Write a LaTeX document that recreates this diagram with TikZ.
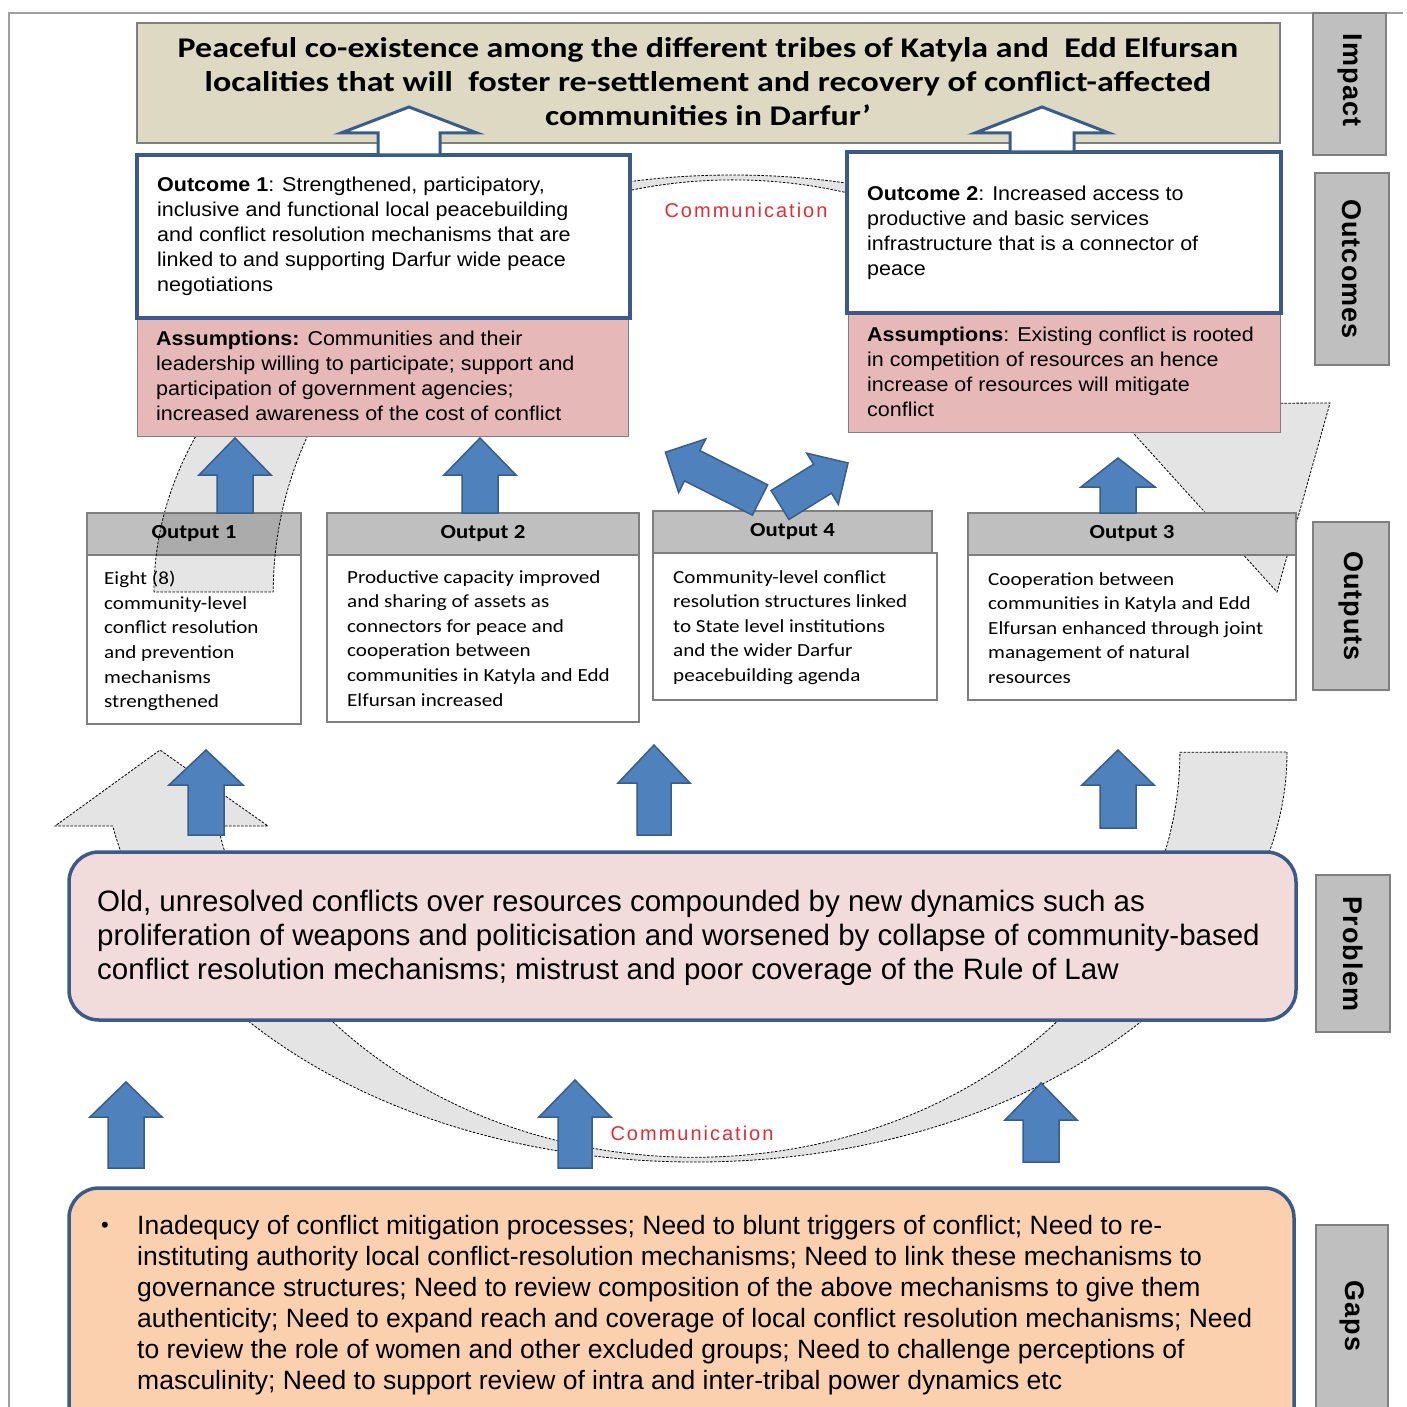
\documentclass[tikz,border=0pt]{standalone}
\usepackage{fontspec}
\setmainfont{Liberation Sans}
\newfontfamily\calib[FakeStretch=1.14]{Carlito}
\newfontfamily\calibwide[FakeStretch=1.19]{Carlito}
\newfontfamily\outfont[FakeStretch=1.075]{Liberation Sans}
\newfontfamily\commfont[LetterSpace=10.0]{Liberation Sans}
\newfontfamily\sidefont[LetterSpace=4.0]{Liberation Sans}
\usetikzlibrary{fit}
\definecolor{navy}{HTML}{3B5A87}
\definecolor{arrblue}{HTML}{4F81BD}
\definecolor{arredge}{HTML}{385D8A}
\definecolor{impactfill}{HTML}{DDD9C3}
\definecolor{assumfill}{HTML}{E6B9B8}
\definecolor{hdrfill}{HTML}{BFBFBF}
\definecolor{probfill}{HTML}{F2DCDB}
\definecolor{gapfill}{HTML}{FAD0AE}
\definecolor{bandfill}{HTML}{E4E4E4}
\definecolor{commred}{HTML}{E02E38}
\definecolor{framegray}{HTML}{A0A0A0}
\definecolor{boxgray}{HTML}{7F7F7F}
% style, x, y, angle, length, head length, head half width, shaft half width
\newcommand\BlkArr[8]{%
  \begin{scope}[shift={(#2,#3)},rotate=#4]
    \draw[#1] (0,-#8) -- (#5-#6,-#8) -- (#5-#6,-#7) -- (#5,0) -- (#5-#6,#7) -- (#5-#6,#8) -- (0,#8) -- cycle;
  \end{scope}}
\begin{document}
\begin{tikzpicture}[x=1pt,y=-1pt,
  band/.style={fill=bandfill, draw=black, line width=0.8pt, dash pattern=on 2.5pt off 1.5pt},
  bluearr/.style={fill=arrblue, draw=arredge, line width=1.5pt, line join=miter},
  whitearr/.style={fill=white, draw=arredge, line width=3pt, line join=miter},
  boxfit/.style={inner sep=0pt, outer sep=0pt},
  impactbox/.style={boxfit, fill=impactfill, draw=boxgray, line width=1.2pt},
  outcomebox/.style={boxfit, fill=white, draw=navy, line width=3.5pt},
  assumbox/.style={boxfit, fill=assumfill, draw=boxgray, line width=1pt},
  hdrbox/.style={boxfit, fill=hdrfill, draw=boxgray, line width=1.2pt},
  hdrtxt/.style={inner sep=0pt, font=\calib\bfseries\fontsize{20}{24}\selectfont},
  bodybox/.style={boxfit, fill=white, draw=boxgray, line width=1.2pt},
  probbox/.style={boxfit, fill=probfill, draw=navy, line width=3.5pt, rounded corners=30pt},
  gapbox/.style={boxfit, fill=gapfill, draw=navy, line width=3.5pt, rounded corners=30pt},
  sidebox/.style={boxfit, fill=hdrfill, draw=boxgray, line width=1.5pt},
  sidetext/.style={rotate=-90, font=\sidefont\bfseries\fontsize{27}{30}\selectfont, inner sep=0pt},
  txt/.style={anchor=north west, align=left, inner sep=0pt},
  outtxt/.style={txt, font=\outfont\fontsize{20}{25}\selectfont},
  bodytxt/.style={txt, font=\calib\fontsize{18.5}{24.6}\selectfont},
  commtxt/.style={inner sep=0pt, text=commred, font=\commfont\fontsize{20}{24}\selectfont}
]
\useasboundingbox (0,0) rectangle (1406,1407);
\fill[white] (0,0) rectangle (1406,1407);
\draw[framegray, line width=1.2pt] (1403,13) -- (9,13) -- (9,1407);

% lower cycle band
\path[band] (1287,752) arc[start angle=0, end angle=169.6, x radius=592, y radius=410]
  -- (55,826) -- (160,750) -- (268,826) -- (218,826)
  arc[start angle=169.5, end angle=0, x radius=485, y radius=405] -- cycle;

% output 3 body (under band)
\node[bodybox, fit={(968,555) (1296,700)}] (o3b) {};

% upper cycle band
\path[band, save path=\upband] (154,592) arc[start angle=180, end angle=333.1, x radius=579, y radius=417]
  -- (1330,403) -- (1277,592) -- (1106,403) -- (1142,403)
  arc[start angle=332.7, end angle=180, x radius=460, y radius=412] -- cycle;

% outputs
\node[hdrbox, fit={(968,513) (1296,555)}] (o3h) {};
\node[hdrtxt] at (o3h.center) {Output 3};
\node[hdrbox, fit={(87,513) (301,555)}] (o1h) {};
\node[bodybox, fit={(87,555) (301,724)}] (o1b) {};
\begin{scope}
  \clip (87,513) rectangle (301,724);
  \path[use path=\upband, fill=black, fill opacity=0.1, draw=black, line width=0.8pt, dash pattern=on 2.5pt off 1.5pt];
\end{scope}
\node[hdrtxt] at (o1h.center) {Output 1};
\node[hdrbox, fit={(327,513) (639,555)}] (o2h) {};
\node[hdrtxt] at (o2h.center) {Output 2};
\node[bodybox, fit={(327,555) (639,722)}] (o2b) {};
\node[hdrbox, fit={(653,511) (932,553)}] (o4h) {};
\node[hdrtxt] at (o4h.center) {Output 4};
\node[bodybox, fit={(653,553) (937,700)}] (o4b) {};

\node[bodytxt] (o1t) at (104,571) {Eight (8)\\community-level\\conflict resolution\\and prevention\\mechanisms\\strengthened};
\node[bodytxt] (o2t) at (347,570) {Productive capacity improved\\and sharing of assets as\\connectors for peace and\\cooperation between\\communities in Katyla and Edd\\Elfursan increased};
\node[bodytxt] (o4t) at (673,570) {Community-level conflict\\resolution structures linked\\to State level institutions\\and the wider Darfur\\peacebuilding agenda};
\node[bodytxt] (o3t) at (988,572) {Cooperation between\\communities in Katyla and Edd\\Elfursan enhanced through joint\\management of natural\\resources};

% outcomes and assumptions
\node[assumbox, fit={(137,318) (628,436)}] (a1) {};
\node[assumbox, fit={(848,313) (1280,432)}] (a2) {};
\node[outcomebox, fit={(137,155) (630,318)}] (oc1) {};
\node[outcomebox, fit={(847,152) (1281,313)}] (oc2) {};
\node[outtxt] (oc1t) at (157,177) {\textbf{Outcome 1}: Strengthened, participatory,\\inclusive and functional local peacebuilding\\and conflict resolution mechanisms that are\\linked to and supporting Darfur wide peace\\negotiations};
\node[outtxt] (a1t) at (156,331) {\textbf{Assumptions:} Communities and their\\leadership willing to participate; support and\\participation of government agencies;\\increased awareness of the cost of conflict};
\node[outtxt] (oc2t) at (867,186) {\textbf{Outcome 2}: Increased access to\\productive and basic services\\infrastructure that is a connector of\\peace};
\node[outtxt] (a2t) at (867,327) {\textbf{Assumptions}: Existing conflict is rooted\\in competition of resources an hence\\increase of resources will mitigate\\conflict};

% impact
\node[impactbox, fit={(137,23) (1280,143)}] (imp) {};
\node[anchor=north, align=center, inner sep=0pt, font=\calibwide\bfseries\fontsize{28.5}{34}\selectfont] (impt) at (708,37) {Peaceful co-existence among the different tribes of Katyla and\ \ Edd Elfursan\\localities that will\ \ foster re-settlement and recovery of conflict-affected\\communities in Darfur’};

% white arrows into impact
\BlkArr{whitearr}{409}{155}{90}{48}{26}{68}{31}
\BlkArr{whitearr}{1042}{152}{90}{45}{26}{67}{32}

% blue arrows outputs -> outcomes
\BlkArr{bluearr}{235}{513}{90}{75}{37}{36}{18}
\BlkArr{bluearr}{480}{513}{90}{75}{37}{36}{18}
\BlkArr{bluearr}{1118}{513}{90}{55}{29}{37}{18}
\BlkArr{bluearr}{760}{500}{153.2}{106}{30}{30}{17}
\BlkArr{bluearr}{780}{505}{31.7}{80}{30}{30}{17}

% blue arrows problem -> outputs
\BlkArr{bluearr}{206}{835}{90}{85}{35}{37}{18}
\BlkArr{bluearr}{654}{835}{90}{90}{38}{36}{17}
\BlkArr{bluearr}{1118}{828}{90}{78}{35}{36}{18}

% blue arrows gaps -> problem
\BlkArr{bluearr}{126}{1168}{90}{86}{35}{36}{18}
\BlkArr{bluearr}{575}{1168}{90}{88}{37}{36}{17}
\BlkArr{bluearr}{1041}{1162}{90}{79}{37}{36}{18}

% problem and gaps
\node[probbox, fit={(69,852) (1296,1020)}] (prob) {};
\node[txt, font=\fontsize{29.5}{34}\selectfont] (probt) at (97,890) {Old, unresolved conflicts over resources compounded by new dynamics such as\\proliferation of weapons and politicisation and worsened by collapse of community-based\\conflict resolution mechanisms; mistrust and poor coverage of the Rule of Law};
\node[gapbox, fit={(69,1188) (1294,1440)}] (gap) {};
\node[inner sep=0pt, font=\fontsize{22}{26}\selectfont] (bul) at (105,1227) {•};
\node[txt, font=\fontsize{26.5}{31}\selectfont] (gapt) at (137,1215) {Inadequcy of conflict mitigation processes; Need to blunt triggers of conflict; Need to re-\\instituting authority local conflict-resolution mechanisms; Need to link these mechanisms to\\governance structures; Need to review composition of the above mechanisms to give them\\authenticity; Need to expand reach and coverage of local conflict resolution mechanisms; Need\\to review the role of women and other excluded groups; Need to challenge perceptions of\\masculinity; Need to support review of intra and inter-tribal power dynamics etc};

% communication labels
\node[commtxt] (comm1) at (746,210) {Communication};
\node[commtxt] (comm2) at (692,1133) {Communication};

% side labels
\node[sidebox, fit={(1313,13) (1386,155)}] (simp) {};
\node[sidetext] at (1350,80) {Impact};
\node[sidebox, fit={(1315,173) (1389,365)}] (sout) {};
\node[sidetext] at (1352,269) {Outcomes};
\node[sidebox, fit={(1313,522) (1389,690)}] (soutp) {};
\node[sidetext] at (1351,606) {Outputs};
\node[sidebox, fit={(1316,875) (1390,1032)}] (sprob) {};
\node[sidetext] at (1353,954) {Problem};
\node[sidebox, fit={(1316,1225) (1388,1440)}] (sgap) {};
\node[sidetext] at (1352,1316) {Gaps};
\end{tikzpicture}
\end{document}
